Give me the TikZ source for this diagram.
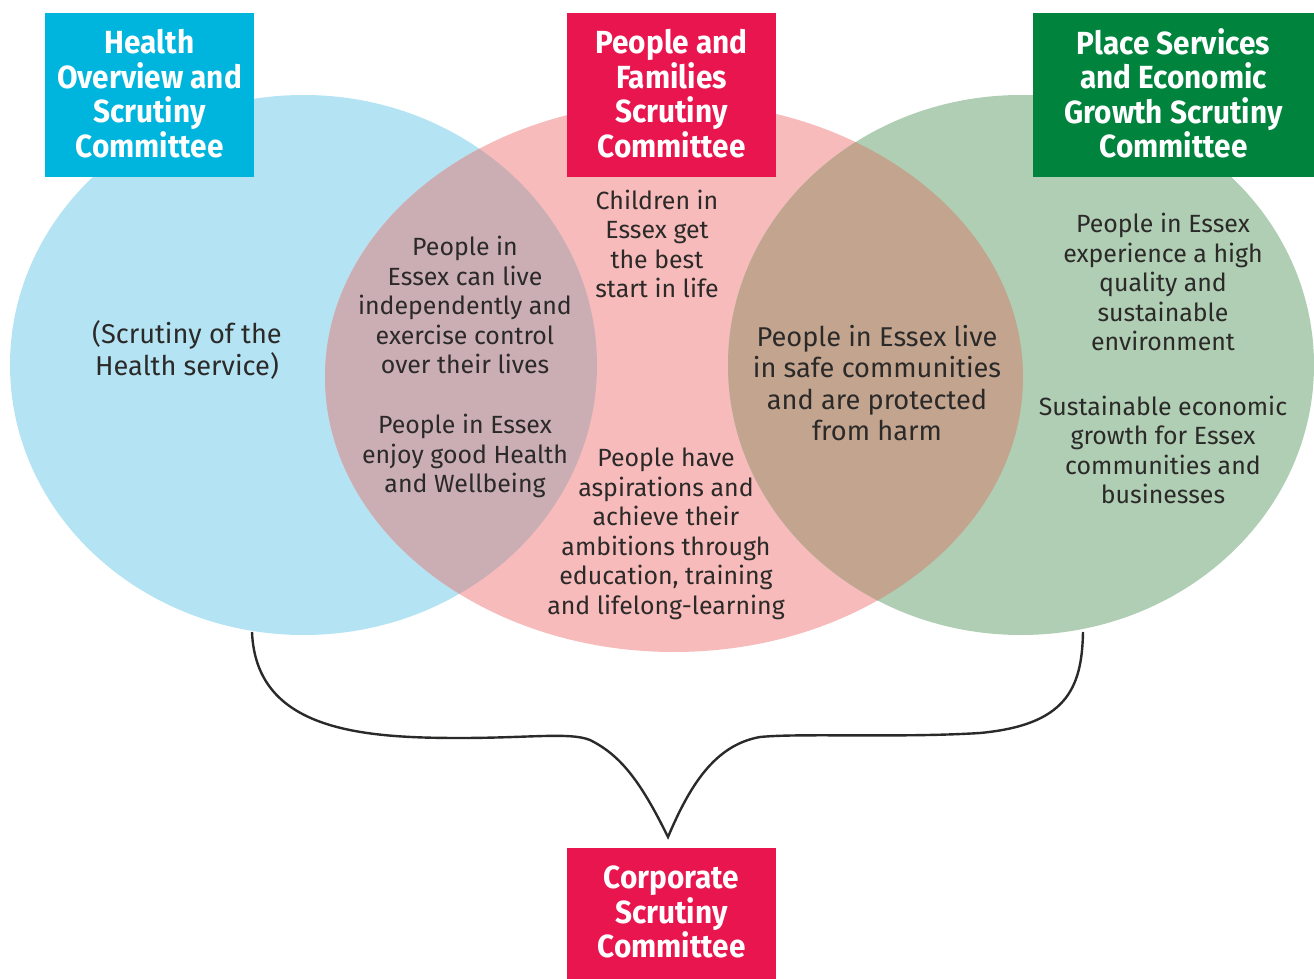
\documentclass[tikz,border=0pt]{standalone}
\usepackage{fontspec}
\setmainfont{Fira Sans}
\newfontfamily\hdrfamily{Fira Sans}[FakeStretch=0.93]
\definecolor{cBlue}{HTML}{B4E3F3}
\definecolor{cPink}{HTML}{F7BBBB}
\definecolor{cGreen}{HTML}{AFCEB4}
\definecolor{cBP}{HTML}{CAAEB3}
\definecolor{cPG}{HTML}{C2A48F}
\definecolor{hBlue}{HTML}{00B5DD}
\definecolor{hPink}{HTML}{E8154F}
\definecolor{hGreen}{HTML}{00843D}
\definecolor{txt}{HTML}{2B2A29}
\tikzset{
  hdr/.style={fill=none, text=white, font=\hdrfamily\fontsize{16}{17.25}\selectfont\bfseries, align=center, inner sep=0pt},
  hbox/.style={inner sep=0pt, minimum height=82pt},
  body/.style={text=txt, font=\fontsize{12.45}{14.75}\selectfont, align=center, inner sep=0pt},
  bodyL/.style={text=txt, font=\fontsize{13.6}{15.75}\selectfont, align=center, inner sep=0pt},
  brace/.style={draw=txt, line width=1.2pt, line join=miter}
}
\begin{document}
\begin{tikzpicture}[x=0.5pt,y=-0.5pt]
\useasboundingbox (0,0) rectangle (1314,979);
% ellipses
\fill[cBlue] (303.5,365) ellipse [x radius=146.75pt, y radius=135pt];
\fill[cPink] (674,377) ellipse [x radius=174.5pt, y radius=137.5pt];
\fill[cGreen] (1021,365) ellipse [x radius=146.5pt, y radius=135pt];
\begin{scope}
  \clip (303.5,365) ellipse [x radius=146.75pt, y radius=135pt];
  \fill[cBP] (674,377) ellipse [x radius=174.5pt, y radius=137.5pt];
\end{scope}
\begin{scope}
  \clip (1021,365) ellipse [x radius=146.5pt, y radius=135pt];
  \fill[cPG] (674,377) ellipse [x radius=174.5pt, y radius=137.5pt];
\end{scope}
% header boxes
\node[hbox, fill=hBlue, minimum width=104.5pt] (bhealth) at (149.5,95) {};
\node[hbox, fill=hPink, minimum width=104.5pt] (bpeople) at (671.5,95) {};
\node[hbox, fill=hGreen, minimum width=140.5pt] (bplace) at (1173.5,95) {};
\node[hbox, fill=hPink, minimum width=104.5pt, minimum height=65.5pt] (bcorp) at (671.5,913.5) {};
\node[hdr] (hhealth) at (149.5,93.5) {Health\\Overview and\\Scrutiny\\Committee};
\node[hdr] (hpeople) at (671.5,93.5) {People and\\Families\\Scrutiny\\Committee};
\node[hdr] (hplace) at (1173.5,93.5) {Place Services\\and Economic\\Growth Scrutiny\\Committee};
\node[hdr] (hcorp) at (671.5,912) {Corporate\\Scrutiny\\Committee};
% texts
\node[bodyL] (thealth) at (187,350) {(Scrutiny of the\\Health service)};
\node[body] (tindep) at (465,305) {People in\\Essex can live\\independently and\\exercise control\\over their lives};
\node[body] (tgood) at (465,456) {People in Essex\\enjoy good Health\\and Wellbeing};
\node[body] (tchild) at (657,244) {Children in\\Essex get\\the best\\start in life};
\node[body] (tasp) at (666,534) {People have\\aspirations and\\achieve their\\ambitions through\\education, training\\and lifelong-learning};
\node[bodyL] (tsafe) at (877,383) {People in Essex live\\in safe communities\\and are protected\\from harm};
\node[body] (tenv) at (1163,282) {People in Essex\\experience a high\\quality and\\sustainable\\environment};
\node[body] (tgrow) at (1163,450) {Sustainable economic\\growth for Essex\\communities and\\businesses};
% brace
\coordinate (bl) at (252,632);
\coordinate (br) at (1083,632);
\coordinate (apex) at (668,837);
\draw[brace] (bl) .. controls (256,730) and (360,738) .. (460,738)
  .. controls (530,738) and (570,732) .. (590,740)
  .. controls (620,755) and (640,780) .. (apex)
  .. controls (690,785) and (715,745) .. (760,737)
  .. controls (800,733) and (900,738) .. (980,733)
  .. controls (1065,725) and (1082,690) .. (br);
\end{tikzpicture}
\end{document}
